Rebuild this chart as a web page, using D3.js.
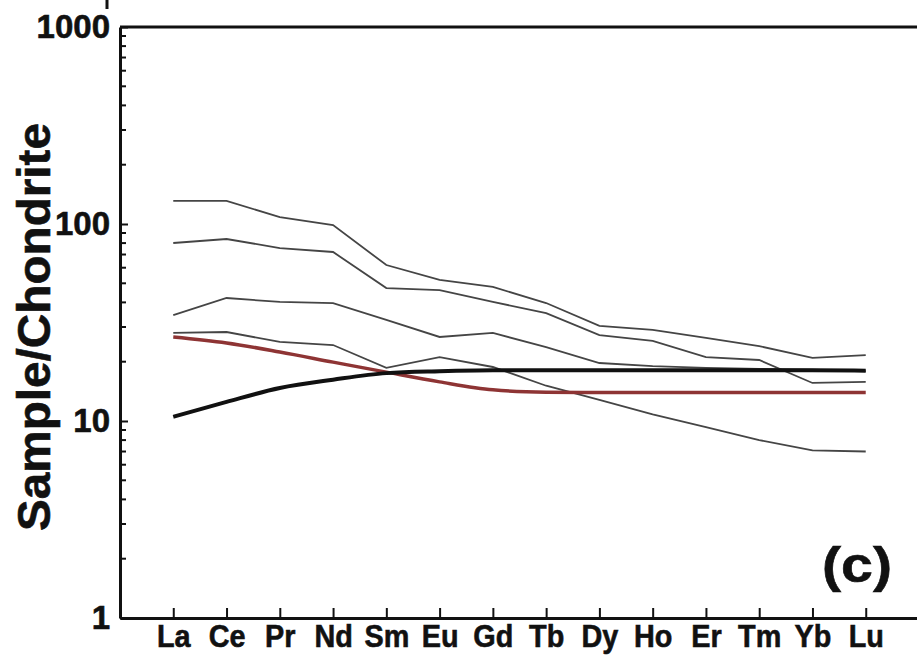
<!DOCTYPE html>
<meta charset="utf-8">

<head>
    <title>REE pattern (c)</title>
    <script type="text/javascript" src="https://cdn.jsdelivr.net/npm/d3@7"></script>
    <style>
        body { margin: 0; background: #fff; }
        svg { display: block; }
        text { font-family: "Liberation Sans", Arial, sans-serif; font-weight: bold; fill: #111; }
    </style>
</head>

<body>
    <svg></svg>

    <script>

        // chondrite normalised REE values
        var elements = ["La", "Ce", "Pr", "Nd", "Sm", "Eu", "Gd", "Tb", "Dy", "Ho", "Er", "Tm", "Yb", "Lu"];

        var sample1 = [131, 131, 108.5, 98.8, 61.9, 52.0, 47.9, 39.7, 30.4, 29.0, 26.4, 24.0, 20.9, 21.6];
        var sample2 = [80.1, 83.9, 75.5, 72.1, 47.3, 46.2, 40.2, 35.3, 27.3, 25.5, 21.1, 20.4, 15.6, 15.8];
        var sample3 = [34.5, 42.1, 40.2, 39.7, 32.6, 26.7, 28.0, 23.7, 19.7, 19.0, 18.6, 18.4, 18.2, 17.9];
        var sample4 = [28.0, 28.3, 25.2, 24.3, 18.6, 21.1, 18.8, 15.1, 12.8, 10.8, 9.3, 8.0, 7.1, 7.0];

        // model curves
        var redModel = [26.7, 24.9, 22.4, 19.9, 17.7, 15.8, 14.4, 14.0, 13.95, 13.95, 13.95, 13.95, 13.95, 13.95];
        var blackModel = [10.5, 12.5, 14.7, 16.2, 17.5, 17.9, 18.1, 18.1, 18.1, 18.1, 18.1, 18.1, 18.1, 18.0];

        var yTicks = [1, 10, 100, 1000];

        // size and margins
        var w = 917, h = 658;
        var margin = { top: 27, right: -2, bottom: 40, left: 120 };

        var svg = d3.select("svg")
            .attr("width", w)
            .attr("height", h);

        var x = d3.scalePoint()
            .domain(elements)
            .range([margin.left, w - margin.right])
            .padding(1);

        var y = d3.scaleLog()
            .domain([1, 1000])
            .range([h - margin.bottom, margin.top]);

        // little mark left over from the panel above
        svg.append("line")
            .attr("x1", 107).attr("x2", 107)
            .attr("y1", 0).attr("y2", 9)
            .attr("stroke", "#111")
            .attr("stroke-width", 3);

        // top frame line
        svg.append("line")
            .attr("x1", margin.left).attr("x2", w - margin.right)
            .attr("y1", y(1000)).attr("y2", y(1000))
            .attr("stroke", "#111")
            .attr("stroke-width", 3);

        // left axis
        var yAxis = svg.append("g")
            .attr("transform", "translate(" + margin.left + ",0)")
            .call(d3.axisLeft(y)
                .tickValues(yTicks)
                .tickFormat(d3.format("d"))
                .tickSize(-8)
                .tickSizeOuter(0)
                .tickPadding(10));

        yAxis.select(".domain").attr("stroke", "#111").attr("stroke-width", 3);
        yAxis.selectAll(".tick line").attr("stroke", "#111").attr("stroke-width", 2);
        yAxis.selectAll(".tick text")
            .style("font-size", "33px")
            .attr("fill", "#111")
            .attr("stroke", "#111")
            .attr("stroke-width", 0.6);

        // minor ticks
        var minor = y.ticks().filter(function (d) { return yTicks.indexOf(d) < 0; });
        svg.append("g")
            .selectAll("line")
            .data(minor)
            .enter().append("line")
            .attr("x1", margin.left)
            .attr("x2", margin.left + 6)
            .attr("y1", function (d) { return y(d); })
            .attr("y2", function (d) { return y(d); })
            .attr("stroke", "#111")
            .attr("stroke-width", 2);

        // bottom axis
        var xAxis = svg.append("g")
            .attr("transform", "translate(0," + (h - margin.bottom) + ")")
            .call(d3.axisBottom(x)
                .tickSize(-10)
                .tickSizeOuter(0)
                .tickPadding(6));

        xAxis.select(".domain").attr("stroke", "#111").attr("stroke-width", 3);
        xAxis.selectAll(".tick line").attr("stroke", "#111").attr("stroke-width", 2);
        xAxis.selectAll(".tick text")
            .style("font-size", "32px")
            .attr("transform", "scale(0.9,1)")
            .attr("fill", "#111")
            .attr("stroke", "#111")
            .attr("stroke-width", 0.6);

        // lines
        var line = d3.line()
            .x(function (d, i) { return x(elements[i]); })
            .y(function (d) { return y(d); });

        var smooth = d3.line()
            .x(function (d, i) { return x(elements[i]); })
            .y(function (d) { return y(d); })
            .curve(d3.curveMonotoneX);

        var samples = [sample1, sample2, sample3, sample4];

        svg.append("g")
            .selectAll("path")
            .data(samples)
            .enter().append("path")
            .attr("d", line)
            .attr("fill", "none")
            .attr("stroke", "#454545")
            .attr("stroke-width", 1.8);

        svg.append("path")
            .attr("d", smooth(redModel))
            .attr("fill", "none")
            .attr("stroke", "#8e3434")
            .attr("stroke-width", 3.5);

        svg.append("path")
            .attr("d", smooth(blackModel))
            .attr("fill", "none")
            .attr("stroke", "#111")
            .attr("stroke-width", 4);

        // y axis title
        svg.append("text")
            .attr("transform", "translate(50," + 327 + ") rotate(-90)")
            .attr("text-anchor", "middle")
            .attr("textLength", 408)
            .attr("lengthAdjust", "spacingAndGlyphs")
            .style("font-size", "47px")
            .attr("stroke", "#111")
            .attr("stroke-width", 0.6)
            .text("Sample/Chondrite");

        // panel label
        svg.append("text")
            .attr("x", 857)
            .attr("y", 582)
            .attr("text-anchor", "middle")
            .attr("textLength", 70)
            .attr("lengthAdjust", "spacingAndGlyphs")
            .style("font-size", "50px")
            .attr("stroke", "#111")
            .attr("stroke-width", 0.6)
            .text("(c)");

    </script>

</body>

</html>
